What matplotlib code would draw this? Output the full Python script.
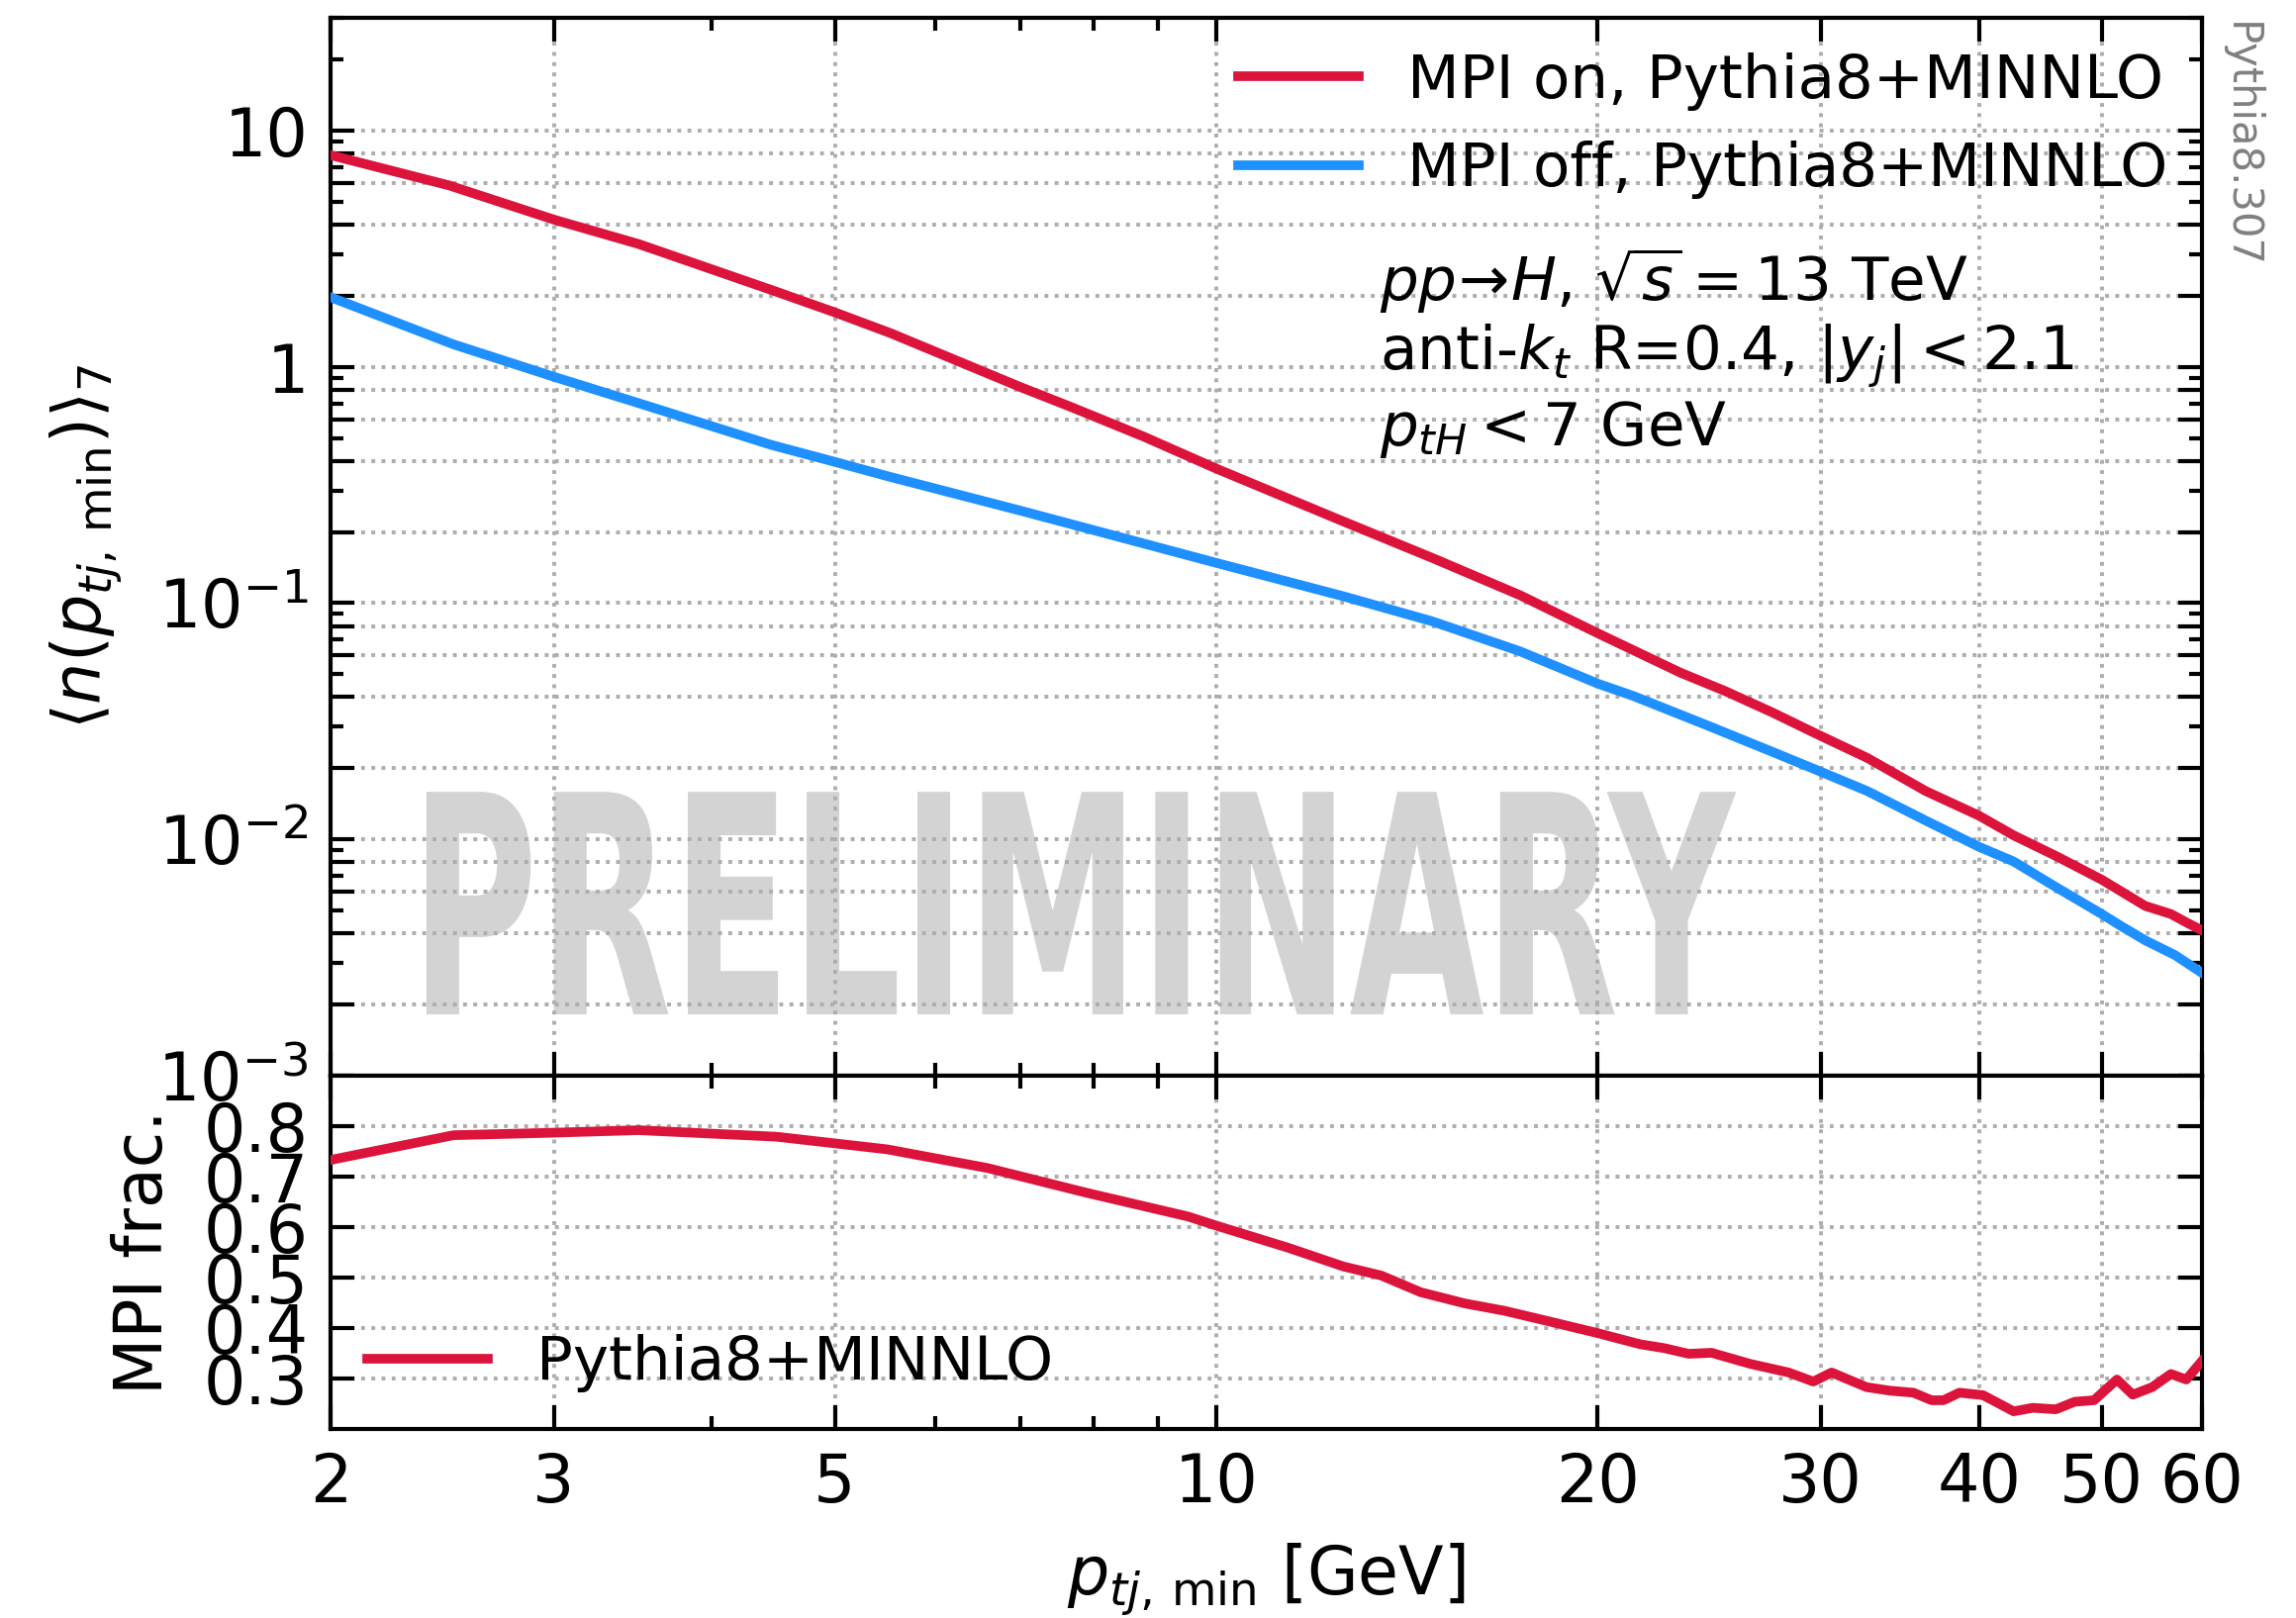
"""
Mean jet multiplicity vs jet pt threshold, MPI on/off, with MPI fraction panel.
"""

import numpy as np
import matplotlib
matplotlib.use('Agg')
import matplotlib.pyplot as plt
from matplotlib import ticker
import matplotlib.patheffects as pe
from matplotlib.transforms import Affine2D

# MPI on (red)
pt_on = [2.0, 2.48, 3.0, 3.5, 4.45, 5.0, 5.53, 7.01, 7.65, 8.77, 10.0, 10.73,
         12.59, 14.78, 17.37, 20.03, 23.26, 25.2, 27.46, 29.75, 32.66, 36.32,
         40.0, 42.6, 46.1, 50.0, 54.1, 56.7, 58.6, 60.0]
n_on = [7.87, 5.86, 4.20, 3.31, 2.12, 1.70, 1.39, 0.82, 0.682, 0.506, 0.371, 0.317,
        0.222, 0.156, 0.108, 0.0743, 0.0507, 0.0425, 0.0345, 0.0280, 0.0221, 0.0160,
        0.0126, 0.0104, 0.00846, 0.00675, 0.00523, 0.00483, 0.00439, 0.00412]

# MPI off (blue)
pt_off = [2.0, 2.5, 3.0, 3.5, 4.45, 5.0, 5.53, 7.01, 7.78, 10.0, 12.59, 14.78,
          17.37, 20.03, 21.33, 24.4, 27.46, 29.75, 32.66, 36.32, 40.0, 42.6,
          46.1, 50.0, 51.7, 54.1, 57.1, 60.0]
n_off = [1.97, 1.245, 0.908, 0.702, 0.468, 0.396, 0.342, 0.246, 0.212, 0.148, 0.107, 0.084,
         0.0625, 0.0455, 0.0405, 0.0304, 0.0235, 0.0197, 0.0160, 0.0120, 0.0093, 0.00806,
         0.00624, 0.00483, 0.00432, 0.00374, 0.00324, 0.00272]

# MPI fraction (lower panel)
pt_frac = [2.0, 2.5, 3.0, 3.5, 4.5, 5.5, 6.6, 7.9, 9.5, 10.0, 11.4, 12.6, 13.5, 14.5,
           15.7, 16.9, 18.4, 20.0, 21.6, 22.6, 23.6, 24.6, 26.4, 28.3, 29.6, 30.6,
           32.6, 34.0, 35.5, 36.7, 37.5, 38.6, 40.3, 42.6, 44.1, 46.0, 47.6, 49.3,
           51.4, 52.9, 54.8, 56.7, 58.3, 60.0]
mpi_frac = [0.733, 0.782, 0.787, 0.792, 0.779, 0.754, 0.717, 0.668, 0.621, 0.603, 0.559,
            0.522, 0.504, 0.471, 0.449, 0.434, 0.412, 0.390, 0.368, 0.360, 0.349, 0.351,
            0.329, 0.312, 0.294, 0.312, 0.283, 0.276, 0.272, 0.257, 0.257, 0.272, 0.267,
            0.235, 0.242, 0.239, 0.254, 0.257, 0.298, 0.268, 0.283, 0.309, 0.298, 0.335]

x_major = [2, 3, 5, 10, 20, 30, 40, 50, 60]
x_minor = [4, 6, 7, 8, 9]
frac_ticks = [0.3, 0.4, 0.5, 0.6, 0.7, 0.8]

RED = '#DC143C'
BLUE = '#1E90FF'


class Squeeze(pe.AbstractPathEffect):
    """Squeeze drawn text horizontally around its own centre (condensed look)."""
    def __init__(self, sx):
        super().__init__()
        self.sx = sx

    def draw_path(self, renderer, gc, tpath, affine, rgbFace=None):
        verts = affine.transform(tpath.vertices)
        cx = 0.5 * (verts[:, 0].min() + verts[:, 0].max())
        aff = affine + Affine2D().translate(-cx, 0).scale(self.sx, 1).translate(cx, 0)
        renderer.draw_path(gc, tpath, aff, rgbFace)


plt.rcParams['font.family'] = ['DejaVu Sans']
plt.rcParams['mathtext.fontset'] = 'dejavusans'

fig = plt.figure(figsize=(11.6, 8.175), dpi=200)
ax = fig.add_axes([0.144, 0.3352, 0.8151, 0.6538])
rax = fig.add_axes([0.144, 0.1168, 0.8151, 0.2184], sharex=ax)

# main panel
ax.plot(pt_on, n_on, color=RED, lw=3.5, label='MPI on, Pythia8+MINNLO', zorder=3)
ax.plot(pt_off, n_off, color=BLUE, lw=3.5, label='MPI off, Pythia8+MINNLO', zorder=3)
ax.set_xscale('log')
ax.set_yscale('log')
ax.set_xlim(2, 60)
ax.set_ylim(1e-3, 30)

ytk = [m * 10.0 ** e for e in range(-3, 1) for m in (1, 2, 4, 6, 8)] + [10.0]
ax.yaxis.set_major_locator(ticker.FixedLocator(ytk))
ax.yaxis.set_minor_locator(ticker.LogLocator(base=10, subs=np.arange(2, 10), numticks=30))


def ylab(v, pos):
    e = np.log10(v)
    if abs(e - round(e)) > 1e-6:
        return ''
    e = int(round(e))
    if e == 1:
        return '10'
    if e == 0:
        return '1'
    return r'$\mathdefault{10^{%d}}$' % e


ax.yaxis.set_major_formatter(ticker.FuncFormatter(ylab))
ax.yaxis.set_minor_formatter(ticker.NullFormatter())
ax.set_ylabel(r'$\langle n(p_{tj,\,\mathrm{min}})\rangle_7$', fontsize=24, labelpad=12)

ax.legend(loc='upper right', frameon=False, fontsize=22, borderaxespad=0.17)

ax.text(0.5606, 0.751, r'$pp\!\rightarrow\! H$, $\sqrt{s} = 13$ TeV', transform=ax.transAxes,
        fontsize=22, va='center', ha='left')
ax.text(0.5606, 0.680, r'anti-$k_t$ R=0.4, $|y_j| < 2.1$', transform=ax.transAxes,
        fontsize=22, va='center', ha='left')
ax.text(0.5606, 0.611, r'$p_{tH} < 7$ GeV', transform=ax.transAxes,
        fontsize=22, va='center', ha='left')

ax.text(0.396, 0.058, 'PRELIMINARY', transform=ax.transAxes, ha='center', va='baseline',
        fontsize=111, fontweight='bold', color='#d3d3d3', zorder=1,
        path_effects=[Squeeze(0.57)])

# ratio panel
rax.plot(pt_frac, mpi_frac, color=RED, lw=3.5, label='Pythia8+MINNLO', zorder=3)
rax.set_xscale('log')
rax.set_xlim(2, 60)
rax.set_ylim(0.2, 0.9)
rax.yaxis.set_major_locator(ticker.FixedLocator(frac_ticks))
rax.yaxis.set_major_formatter(ticker.FuncFormatter(lambda v, p: f'{v:.1f}'))
rax.yaxis.set_minor_locator(ticker.NullLocator())
rax.set_ylabel('MPI frac.', fontsize=24, labelpad=10)
rax.set_xlabel(r'$p_{tj,\,\mathrm{min}}$ [GeV]', fontsize=24, labelpad=9)
rax.legend(loc='lower left', frameon=False, fontsize=22, borderaxespad=0.2)

rax.xaxis.set_major_locator(ticker.FixedLocator(x_major))
rax.xaxis.set_minor_locator(ticker.FixedLocator(x_minor))
rax.xaxis.set_major_formatter(ticker.FuncFormatter(lambda v, p: f'{v:g}'))
rax.xaxis.set_minor_formatter(ticker.NullFormatter())

for a in (ax, rax):
    a.grid(True, which='major', ls=':', color='0.68', lw=1.4)
    a.tick_params(which='both', direction='in', top=True, right=True, width=1.5,
                  labelsize=24, pad=8)
    a.tick_params(which='major', length=8.5)
    a.tick_params(which='minor', length=4.8)
    for s in a.spines.values():
        s.set_linewidth(1.5)
ax.tick_params(labelbottom=False)

fig.text(0.976, 0.9865, 'Pythia8.307', rotation=-90, ha='center', va='top',
         fontsize=15, color='grey')

fig.savefig('out.png', dpi=200)
